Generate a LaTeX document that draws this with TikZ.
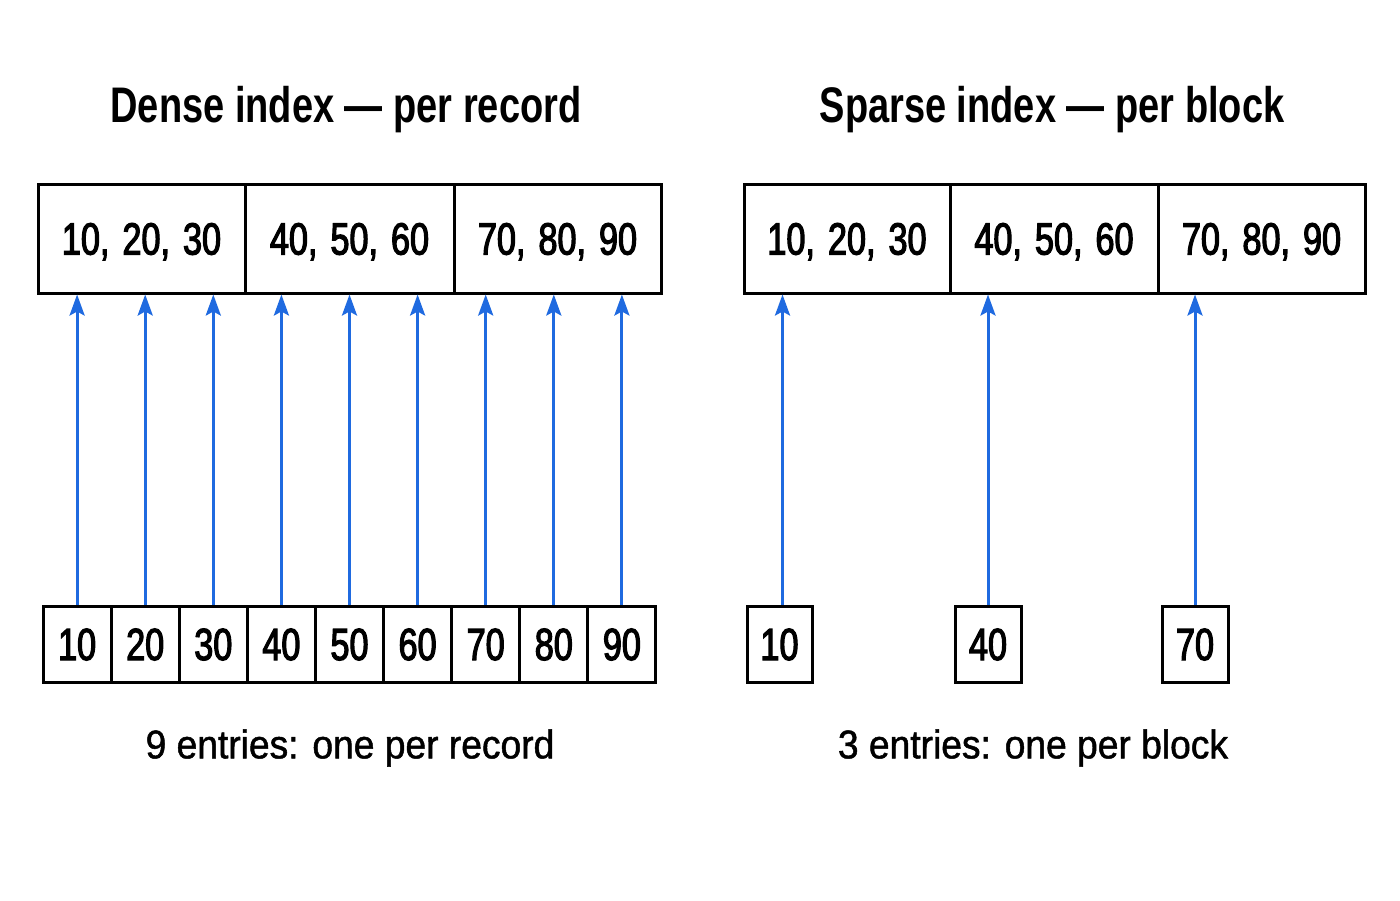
\documentclass[tikz,border=0pt]{standalone}
\usepackage{fontspec}
\setmainfont{Liberation Sans}
\newfontfamily\boxfont[FakeStretch=0.76,FakeBold=2.6]{Liberation Sans}
\newfontfamily\titlefont[FakeStretch=0.76]{Liberation Sans}
\newfontfamily\capfont[FakeStretch=0.93,FakeBold=1.2]{Liberation Sans}
\usetikzlibrary{arrows.meta}
\definecolor{arrowblue}{HTML}{1F6AE0}
\newcommand{\gp}{\hspace{13pt}}
\tikzset{
  blockbox/.style={draw=black, line width=3pt, inner sep=0pt, minimum height=109pt,
    text height=32pt, text depth=0pt, font=\boxfont\fontsize{45}{49}\selectfont},
  cellbox/.style={draw=black, line width=3pt, inner sep=0pt, minimum height=76pt,
    text height=32pt, text depth=0pt, font=\boxfont\fontsize{45}{49}\selectfont},
  titletext/.style={font=\titlefont\bfseries\fontsize{50}{54}\selectfont},
  captext/.style={font=\capfont\fontsize{40}{44}\selectfont},
  ptr/.style={draw=arrowblue, line width=3pt,
    -{Stealth[length=21pt,width=15pt,inset=4pt]}},
}
\begin{document}
\begin{tikzpicture}[x=1pt,y=-1pt]
\useasboundingbox (0,0) rectangle (1400,900);
\fill[white] (0,0) rectangle (1400,900);

% titles
\node[titletext] (tdense) at (346,110) {Dense index — per record};
\node[titletext] (tsparse) at (1052,110) {Sparse index — per block};

% dense blocks
\node[blockbox, minimum width=207pt] (d1) at (141.5,238.5) {10,\gp20,\gp30};
\node[blockbox, minimum width=209pt] (d2) at (349.5,238.5) {40,\gp50,\gp60};
\node[blockbox, minimum width=207pt] (d3) at (557.5,238.5) {70,\gp80,\gp90};

% sparse blocks
\node[blockbox, minimum width=206pt] (s1) at (847,238.5) {10,\gp20,\gp30};
\node[blockbox, minimum width=208pt] (s2) at (1054,238.5) {40,\gp50,\gp60};
\node[blockbox, minimum width=207pt] (s3) at (1261.5,238.5) {70,\gp80,\gp90};

% dense index cells
\foreach \i/\v in {0/10,1/20,2/30,3/40,4/50,5/60,6/70,7/80,8/90}{
  \node[cellbox, minimum width=68.1pt] (c\v) at ({77.1+68.1*\i},644) {\v};
}

% sparse index cells
\node[cellbox, minimum width=65pt] (e10) at (779.5,644) {10};
\node[cellbox, minimum width=66pt] (e40) at (988,644) {40};
\node[cellbox, minimum width=66pt] (e70) at (1195,644) {70};

% dense pointers
\foreach \v/\b in {10/d1,20/d1,30/d1,40/d2,50/d2,60/d2,70/d3,80/d3,90/d3}{
  \draw[ptr] (c\v.north) -- (c\v.north |- \b.south);
}
% sparse pointers
\draw[ptr] ([xshift=3pt]e10.north) -- ([xshift=3pt]e10.north |- s1.south);
\draw[ptr] (e40.north) -- (e40.north |- s2.south);
\draw[ptr] (e70.north) -- (e70.north |- s3.south);

% captions
\node[captext] (cdense) at (350,748) {9 entries: one per record};
\node[captext] (csparse) at (1033,748) {3 entries: one per block};
\end{tikzpicture}
\end{document}
